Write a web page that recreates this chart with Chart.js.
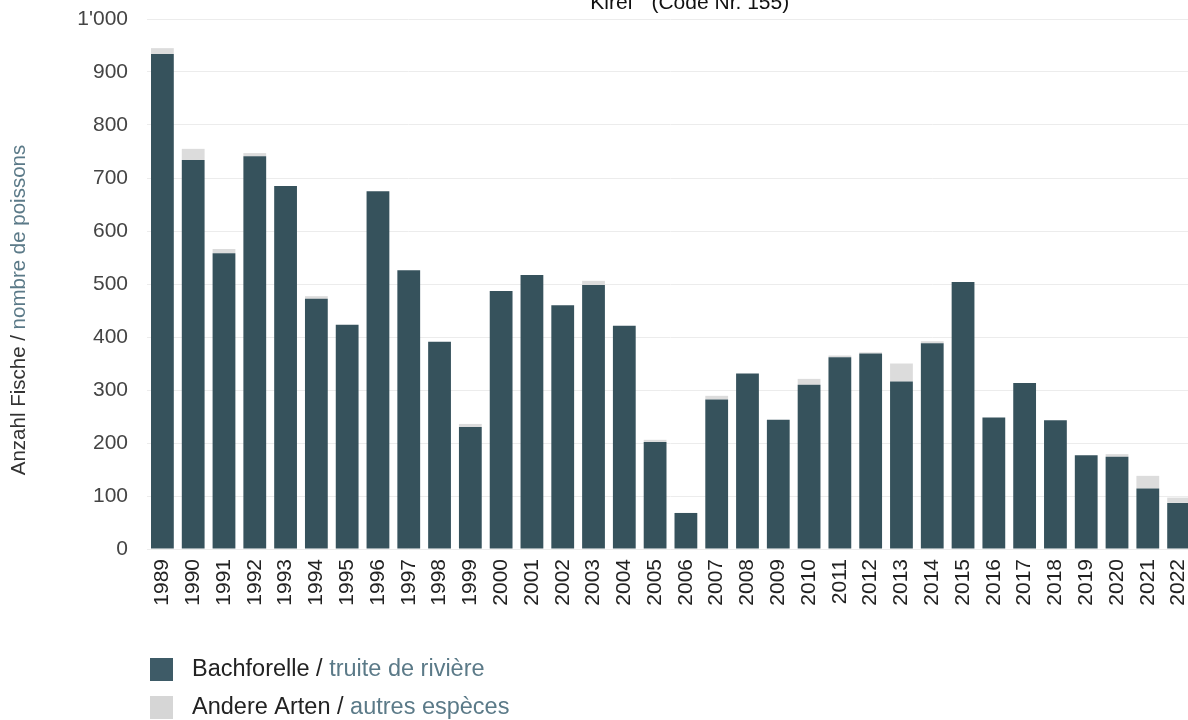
<!DOCTYPE html>
<html>
<head>
<meta charset="utf-8">
<script src="https://cdn.jsdelivr.net/npm/chart.js@4/dist/chart.umd.min.js"></script>
<style>
  html, body { margin: 0; padding: 0; background: #fff; overflow: hidden; }
  #wrap { width: 1194px; height: 720px; position: relative; }
</style>
</head>
<body>
<div id="wrap"><canvas id="chart"></canvas></div>
<script>
const years = ['1989','1990','1991','1992','1993','1994','1995','1996','1997','1998','1999','2000','2001','2002','2003','2004','2005','2006','2007','2008','2009','2010','2011','2012','2013','2014','2015','2016','2017','2018','2019','2020','2021','2022'];
const bachforelle = [934, 734, 558, 741, 685, 472, 423, 675, 526, 391, 230, 487, 517, 460, 498, 421, 202, 68, 282, 331, 244, 310, 362, 369, 316, 388, 504, 248, 313, 243, 177, 174, 114, 87];
const andereArten = [11, 21, 8, 6, 0, 5, 0, 0, 0, 0, 6, 0, 0, 0, 8, 0, 4, 0, 7, 0, 0, 11, 3, 2, 34, 4, 0, 0, 0, 0, 0, 5, 24, 10];
const seriesLabels = ['Bachforelle / truite de rivière', 'Andere Arten / autres espèces'];
const titleText = '"Kirel"  (Code Nr. 155)';
const yTitle = 'Anzahl Fische / nombre de poissons';

const FONT = '"Liberation Sans", Arial, sans-serif';
const DARK = '#36525c';
const LIGHT = '#dcdcdc';
const FR = '#5b7a88';

// draws title, two-colour y title and legend
const extras = {
  id: 'extras',
  afterDraw(chart) {
    const ctx = chart.ctx;
    ctx.save();
    // title (cut at top like the original)
    ctx.font = '500 21px ' + FONT;
    ctx.fillStyle = '#111';
    ctx.textAlign = 'center';
    ctx.textBaseline = 'alphabetic';
    ctx.fillText(titleText, 686, 9);

    // y axis title, two colours
    const parts = yTitle.split(' / ');
    ctx.font = '20.5px ' + FONT;
    ctx.translate(25, 310);
    ctx.rotate(-Math.PI / 2);
    const a = parts[0] + ' / ';
    const wA = ctx.measureText(a).width;
    const wAll = wA + ctx.measureText(parts[1]).width;
    ctx.textAlign = 'left';
    ctx.fillStyle = '#333';
    ctx.fillText(a, -wAll / 2, 0);
    ctx.fillStyle = FR;
    ctx.fillText(parts[1], -wAll / 2 + wA, 0);
    ctx.setTransform(1, 0, 0, 1, 0, 0);

    // legend
    ctx.font = '23.5px ' + FONT;
    ctx.textBaseline = 'middle';
    chart.data.datasets.forEach((ds, i) => {
      const y = 669 + i * 38;
      ctx.fillStyle = i === 0 ? '#3e5b67' : '#d6d6d6';
      ctx.fillRect(150, y - 11, 23, 23);
      const p = ds.label.split(' / ');
      const first = p[0] + ' / ';
      ctx.fillStyle = '#222';
      ctx.fillText(first, 192, y + 1);
      ctx.fillStyle = FR;
      ctx.fillText(p[1], 192 + ctx.measureText(first).width, y + 1);
    });
    ctx.restore();
  }
};

new Chart(document.getElementById('chart'), {
  type: 'bar',
  data: {
    labels: years,
    datasets: [
      { label: seriesLabels[0], data: bachforelle, backgroundColor: DARK },
      { label: seriesLabels[1], data: andereArten, backgroundColor: LIGHT }
    ]
  },
  options: {
    responsive: true,
    maintainAspectRatio: false,
    animation: false,
    layout: { padding: { top: 19, right: 0, left: 0, bottom: 0 } },
    plugins: {
      legend: { display: false },
      tooltip: { enabled: false }
    },
    datasets: { bar: { categoryPercentage: 1, barPercentage: 0.74 } },
    scales: {
      x: {
        stacked: true,
        grid: { display: false },
        border: { display: false },
        ticks: {
          color: '#222',
          font: { family: FONT, size: 21 },
          minRotation: 90,
          maxRotation: 90,
          padding: 2,
          autoSkip: false
        },
        afterFit: s => {
          s.height = 171;
          s.paddingLeft = 0; s.paddingRight = 0; s.paddingTop = 0; s.paddingBottom = 0;
        }
      },
      y: {
        stacked: true,
        min: 0,
        max: 1000,
        grid: { color: '#ececec', drawTicks: false },
        border: { display: false },
        ticks: {
          stepSize: 100,
          padding: 19,
          color: '#444',
          font: { family: FONT, size: 21 },
          callback: v => String(v).replace(/\B(?=(\d{3})+(?!\d))/g, "'")
        },
        afterFit: s => {
          s.width = 147;
          s.paddingTop = 0; s.paddingBottom = 0; s.paddingLeft = 0; s.paddingRight = 0;
        }
      }
    }
  },
  plugins: [extras]
});
</script>
</body>
</html>
